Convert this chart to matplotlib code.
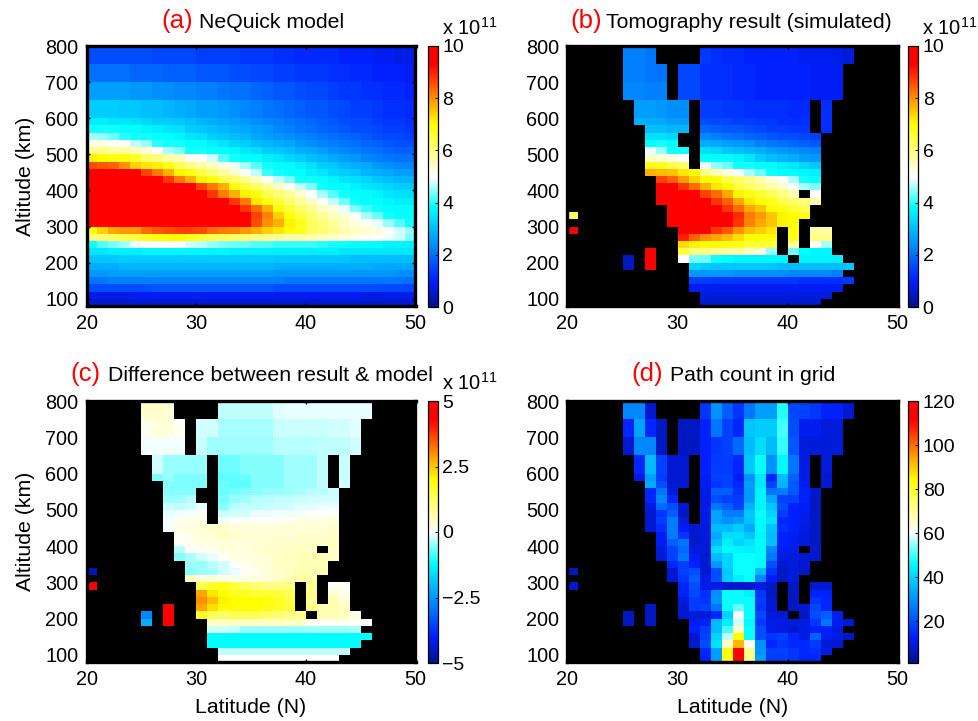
# -*- coding: utf-8 -*-
import numpy as np
import matplotlib
matplotlib.use('Agg')
from matplotlib import pyplot as plt
from matplotlib.colors import LinearSegmentedColormap

plt.rcParams['font.family'] = ['Liberation Sans', 'DejaVu Sans']
plt.rcParams['mathtext.default'] = 'regular'

W, H = 979, 721

lat_edges = list(range(20, 51))
alt_edges = [800, 750, 700, 650, 600, 580, 560, 540, 520, 500, 480, 460, 440, 420, 400, 380,
             360, 340, 320, 300, 280, 260, 240, 220, 200, 180, 160, 140, 120, 100, 80]

# 有效网格（b, c, d 共用），从最高的高度往下
cover = [
    ".....###....##############....",
    ".....####.###############.....",
    ".....####.###############.....",
    "......#####.##########.#......",
    "......#####.##########.#......",
    ".......####.##########.#......",
    ".......###..###########.......",
    ".......###..###########.......",
    ".......####.###########.......",
    ".......####.###########.......",
    ".......####.###########.......",
    ".......################.......",
    "........###############.......",
    "........###############.......",
    "........#############.#.......",
    "........###############.......",
    ".........#############........",
    "#........#############........",
    ".........############.........",
    "#.........#########.#.##......",
    "..........#########.#.##......",
    "..........#########.#.##......",
    ".......#..#########.####......",
    ".....#.#..##########.####.....",
    ".....#.#...###############....",
    "...........##############.....",
    "...........###############....",
    "...........##############.....",
    "............############......",
    "............###########.......",
]

model = [
    [1.6,1.6,1.6,1.6,1.6,1.6,1.5,1.5,1.5,1.5,1.4,1.4,1.4,1.4,1.3,1.3,1.3,1.2,1.2,1.1,1.1,1.1,1.1,1.0,1.0,1.0,0.9,0.9,0.8,0.8],
    [2.0,2.0,2.0,2.0,1.9,1.9,1.9,1.8,1.8,1.8,1.7,1.7,1.7,1.6,1.6,1.5,1.5,1.4,1.4,1.3,1.3,1.3,1.2,1.2,1.1,1.1,1.0,1.0,1.0,0.9],
    [2.6,2.6,2.6,2.6,2.5,2.5,2.4,2.4,2.3,2.3,2.2,2.2,2.1,2.0,2.0,1.9,1.8,1.7,1.7,1.6,1.5,1.5,1.4,1.3,1.3,1.2,1.2,1.1,1.1,1.0],
    [3.2,3.2,3.2,3.1,3.1,3.0,3.0,2.9,2.8,2.7,2.6,2.6,2.5,2.4,2.3,2.2,2.1,2.0,1.9,1.8,1.7,1.7,1.6,1.5,1.4,1.4,1.3,1.2,1.2,1.1],
    [3.6,3.6,3.5,3.5,3.4,3.3,3.2,3.2,3.1,3.0,2.9,2.8,2.7,2.6,2.5,2.4,2.3,2.2,2.1,2.0,1.9,1.8,1.7,1.6,1.5,1.5,1.4,1.3,1.3,1.2],
    [3.9,3.9,3.9,3.8,3.8,3.7,3.6,3.5,3.4,3.2,3.1,3.0,2.9,2.8,2.7,2.6,2.5,2.3,2.2,2.1,2.0,1.9,1.8,1.7,1.6,1.6,1.5,1.4,1.4,1.3],
    [4.6,4.5,4.3,4.0,3.9,3.9,3.8,3.8,3.7,3.5,3.4,3.2,3.1,3.0,2.9,2.7,2.6,2.5,2.4,2.3,2.2,2.1,2.0,1.9,1.8,1.7,1.6,1.5,1.5,1.4],
    [5.2,5.2,5.1,5.0,4.7,4.5,4.0,3.9,3.9,3.8,3.8,3.6,3.5,3.3,3.2,3.0,2.9,2.8,2.7,2.5,2.4,2.3,2.2,2.1,2.0,1.9,1.8,1.7,1.6,1.6],
    [5.9,5.9,5.8,5.8,5.6,5.3,5.1,4.6,4.4,3.9,3.9,3.8,3.8,3.7,3.5,3.4,3.2,3.1,3.0,2.8,2.7,2.6,2.4,2.3,2.2,2.1,2.0,1.9,1.8,1.8],
    [7.1,7.0,6.9,6.9,6.7,6.2,6.0,5.7,5.6,5.1,5.0,4.8,4.2,3.9,3.8,3.8,3.6,3.5,3.3,3.2,3.0,2.9,2.7,2.6,2.5,2.3,2.2,2.1,2.0,2.0],
    [8.6,8.5,8.4,8.0,7.4,7.2,7.1,6.9,6.3,6.0,5.7,5.5,5.2,4.9,4.6,4.2,3.9,3.8,3.8,3.6,3.4,3.2,3.1,2.9,2.8,2.7,2.5,2.4,2.3,2.3],
    [9.7,9.6,9.6,9.5,9.4,8.7,8.2,7.7,7.1,6.9,6.5,6.1,5.8,5.5,5.1,4.7,4.1,3.9,3.8,3.8,3.6,3.5,3.3,3.2,3.1,2.9,2.8,2.7,2.6,2.6],
    [9.9,9.9,9.8,9.8,9.7,9.6,9.4,8.8,8.2,7.7,7.1,6.9,6.4,6.2,5.8,5.5,5.1,4.7,4.4,3.9,3.9,3.8,3.7,3.5,3.4,3.3,3.1,3.0,2.9,2.9],
    [9.9,9.9,9.9,9.8,9.8,9.8,9.7,9.7,9.6,9.4,8.7,8.2,7.7,7.0,6.6,6.2,5.8,5.5,5.1,4.7,4.4,3.9,3.8,3.8,3.6,3.5,3.4,3.3,3.2,3.2],
    [10,10,10,9.9,9.9,9.8,9.8,9.7,9.7,9.6,9.4,8.8,8.2,7.7,7.1,6.9,6.4,6.1,5.8,5.4,5.0,4.6,4.2,3.9,3.8,3.8,3.7,3.5,3.4,3.4],
    [10,10,10,10,9.9,9.9,9.8,9.8,9.7,9.7,9.6,9.5,9.4,8.8,8.2,7.2,6.9,6.5,6.1,5.8,5.4,5.1,4.7,4.3,3.9,3.8,3.8,3.7,3.6,3.6],
    [10,10,10,10,10,9.9,9.9,9.8,9.8,9.7,9.7,9.6,9.5,9.4,8.8,8.3,7.7,7.0,6.6,6.2,5.9,5.5,5.2,4.9,4.4,4.1,3.9,3.8,3.8,3.8],
    [10,10,10,10,10,9.9,9.9,9.8,9.8,9.7,9.7,9.6,9.6,9.5,9.4,8.7,8.1,7.4,6.9,6.5,6.1,5.8,5.5,5.3,5.0,4.6,4.3,3.9,3.8,3.8],
    [10,10,10,10,9.9,9.9,9.8,9.8,9.8,9.7,9.7,9.6,9.6,9.5,9.4,8.6,8.0,7.7,7.1,6.8,6.3,6.0,5.8,5.5,5.3,5.1,4.9,4.5,4.2,3.9],
    [7.0,7.4,7.8,7.9,7.9,8.3,8.5,8.6,8.7,8.7,8.6,8.3,8.2,8.1,7.9,7.7,7.4,7.2,7.0,6.8,6.3,6.1,5.9,5.6,5.5,5.4,5.2,5.1,4.8,4.5],
    [6.0,6.1,6.3,6.4,6.5,6.7,6.9,7.0,7.0,6.8,6.6,6.4,6.3,6.2,6.1,6.0,5.9,5.8,5.7,5.7,5.6,5.5,5.4,5.3,5.2,5.1,5.0,4.9,4.8,4.4],
    [3.9,4.2,4.4,4.6,4.9,5.0,5.0,5.0,5.0,4.8,4.7,4.5,4.4,4.3,4.3,4.2,4.2,4.1,4.1,4.1,4.1,4.0,3.9,3.9,3.8,3.8,3.8,3.7,3.7,3.7],
    [3.5,3.5,3.6,3.6,3.6,3.7,3.7,3.7,3.7,3.7,3.7,3.7,3.7,3.6,3.6,3.6,3.6,3.6,3.6,3.6,3.6,3.6,3.6,3.5,3.5,3.5,3.5,3.5,3.5,3.5],
    [3.1,3.1,3.1,3.2,3.2,3.2,3.2,3.2,3.2,3.2,3.2,3.2,3.2,3.2,3.2,3.2,3.2,3.1,3.1,3.1,3.1,3.1,3.1,3.1,3.0,3.0,3.0,3.0,3.0,3.0],
    [2.8,2.8,2.8,2.9,2.9,2.9,2.9,2.9,2.9,2.9,2.9,2.9,2.9,2.9,2.9,2.9,2.9,2.8,2.8,2.8,2.8,2.8,2.8,2.8,2.8,2.8,2.7,2.7,2.7,2.7],
    [2.5,2.5,2.6,2.6,2.6,2.6,2.6,2.6,2.6,2.6,2.6,2.6,2.6,2.6,2.6,2.6,2.6,2.5,2.5,2.5,2.5,2.5,2.5,2.5,2.5,2.5,2.5,2.5,2.4,2.4],
    [2.1,2.1,2.2,2.2,2.2,2.2,2.2,2.2,2.2,2.2,2.2,2.2,2.2,2.2,2.2,2.2,2.2,2.2,2.1,2.1,2.1,2.1,2.1,2.1,2.1,2.1,2.1,2.1,2.1,2.0],
    [1.6,1.6,1.6,1.6,1.6,1.6,1.7,1.7,1.7,1.7,1.7,1.7,1.7,1.7,1.7,1.7,1.7,1.6,1.6,1.6,1.6,1.6,1.6,1.6,1.6,1.6,1.6,1.5,1.5,1.5],
    [0.8,0.8,0.8,0.8,0.9,0.9,0.9,0.9,0.9,0.9,0.9,0.9,0.9,0.9,0.9,0.9,0.9,0.9,0.9,0.9,0.9,0.9,0.9,0.9,0.9,0.8,0.8,0.8,0.8,0.8],
    [0.6,0.6,0.6,0.6,0.6,0.6,0.6,0.6,0.6,0.6,0.6,0.6,0.6,0.6,0.6,0.6,0.6,0.6,0.6,0.6,0.6,0.6,0.6,0.6,0.6,0.6,0.6,0.6,0.6,0.6],
]

# 下面三组只列出 cover 中标记为 # 的格子
result = [
    [2.2,2.2,2.1, 1.3,1.2,1.1,1.1,1.0,1.0,1.0,1.0,1.0,0.9,0.9,0.9,0.8,0.7],
    [2.2,2.2,2.1,2.0, 1.5,1.5,1.2,1.2,1.2,1.1,1.1,1.0,1.0,1.0,1.0,1.0,0.9,0.9,0.9],
    [2.3,2.3,2.2,2.2, 1.5,1.5,1.2,1.2,1.2,1.1,1.1,1.0,1.0,1.0,1.0,1.0,0.9,0.9,0.9],
    [2.6,2.6,2.5,2.4,2.4, 1.4,1.4,1.3,1.3,1.2,1.2,1.2,1.2,1.1,1.1, 1.2],
    [2.8,2.8,2.7,2.6,2.6, 1.6,1.5,1.5,1.4,1.4,1.3,1.3,1.2,1.2,1.2, 1.2],
    [3.0,3.0,2.9,2.9, 1.9,1.8,1.7,1.7,1.6,1.5,1.4,1.4,1.3,1.3, 1.2],
    [3.4,3.4,3.3, 2.3,2.2,2.1,2.0,1.9,1.8,1.7,1.6,1.6,1.5,1.4],
    [3.8,3.9,3.8, 2.8,2.7,2.6,2.5,2.4,2.2,2.1,2.0,1.9,1.8,1.7],
    [4.9,4.5,3.9,3.9, 3.4,3.3,3.1,3.0,2.9,2.8,2.6,2.5,2.4,2.3,2.2],
    [5.5,5.3,5.2,5.0, 3.8,3.8,3.8,3.7,3.5,3.2,3.0,2.9,2.8,2.6,2.5],
    [6.9,6.8,6.4,6.2, 4.9,4.5,4.3,3.9,3.9,3.8,3.8,3.6,3.5,3.3,3.1],
    [7.7,7.6,7.5,7.2,7.0,6.0,5.6,5.3,5.0,4.6,4.3,3.9,3.8,3.8,3.7,3.6],
    [8.7,8.4,7.9,7.4,7.0,6.9,6.4,6.2,5.9,5.6,5.3,5.0,4.6,3.9,3.8],
    [9.5,9.5,8.8,8.3,7.7,7.2,7.0,6.5,6.2,6.0,5.7,5.4,5.0,4.6,4.4],
    [9.5,9.5,9.5,9.5,8.7,8.3,7.8,7.1,6.9,6.6,6.3,6.0,5.6, 5.0],
    [9.5,9.5,9.5,9.5,9.5,8.8,8.4,7.8,7.2,7.0,6.8,6.4,6.2,6.0,5.6],
    [9.5,9.5,9.5,9.5,9.5,8.8,8.3,7.8,7.5,7.0,6.9,6.6,6.4],
    [6.3, 9.5,9.5,9.5,9.5,9.5,9.5,8.9,8.2,7.9,7.5,7.1,7.0,6.9],
    [9.5,9.5,9.5,9.5,9.5,9.5,8.8,8.1,7.8,7.5,7.1,7.0],
    [9.8, 9.5,9.5,9.5,8.8,8.5,8.0,7.6,7.4,7.2, 6.9, 5.7,5.7],
    [9.0,8.4,8.0,7.8,7.6,7.3,7.0,7.0,7.0, 6.8, 6.0,6.0],
    [7.3,7.1,7.0,7.0,6.9,6.8,6.6,6.6,6.5, 5.8, 5.0,4.6],
    [9.8, 6.5,6.0,6.0,5.8,5.7,5.7,5.5,5.3,4.5, 4.3,3.8,3.7,3.7],
    [0.5, 9.8, 5.0,4.4,4.3,3.9,3.8,3.7,3.7,3.7,3.7,3.7, 3.7,3.7,3.7,3.6],
    [0.5, 9.8, 3.3,3.2,3.1,3.1,3.1,3.1,3.1,3.1,3.0,3.0,3.0,3.0,3.0,3.0,3.1],
    [2.5,2.5,2.5,2.5,2.4,2.4,2.4,2.4,2.4,2.3,2.3,2.3,2.3,2.2],
    [1.4,1.4,1.3,1.3,1.3,1.3,1.3,1.3,1.3,1.3,1.2,1.2,1.2,1.2,1.3],
    [0.9,0.9,0.9,0.9,0.9,0.9,0.9,0.9,0.9,0.9,0.9,0.9,0.9,0.9],
    [0.7,0.7,0.7,0.7,0.7,0.7,0.7,0.7,0.7,0.7,0.7,0.7],
    [0.6,0.6,0.6,0.6,0.6,0.6,0.6,0.6,0.6,0.6,0.6],
]

diff = [
    [.4,.4,.35, -.3,-.3,-.3,-.3,-.3,-.12,-.1,-.1,-.1,-.1,-.1,-.1,-.1,-.1],
    [.15,.3,.3,.1, -.2,-.2,-.4,-.4,-.4,-.4,-.4,-.25,-.25,-.25,-.25,-.25,-.2,-.2,-.15],
    [-.05,-.05,-.05,-.05, -.25,-.45,-.45,-.45,-.45,-.45,-.45,-.35,-.35,-.35,-.35,-.3,-.3,-.3,-.2],
    [-.2,-.5,-.5,-.5,-.5, -.7,-.7,-.55,-.55,-.55,-.55,-.45,-.45,-.45,-.3, -.25],
    [-.6,-.5,-.6,-.6,-.6, -.75,-.75,-.7,-.55,-.55,-.55,-.45,-.45,-.45,-.3, -.25],
    [-.55,-.6,-.6,-.6, -.7,-.75,-.75,-.55,-.55,-.55,-.45,-.45,-.45,-.3, -.2],
    [-.55,-.55,-.55, -.7,-.65,-.55,-.55,-.5,-.5,-.45,-.4,-.35,-.35,-.25],
    [-.45,-.45,-.35, -.65,-.5,-.45,-.35,-.35,-.3,-.3,-.25,-.2,-.2,-.2],
    [-.25,-.3,-.2,-.1, -.55,-.35,-.3,-.3,-.25,-.2,-.2,-.15,-.15,-.1,-.1],
    [-.1,-.05,-.05,.05, -.25,-.2,-.2,-.1,-.1,-.05,-.05,-.05,0,0,.05],
    [-.05,.15,.2,.2, -.05,0,.05,.05,.1,.1,.15,.2,.2,.25,.25],
    [-.05,.2,.3,.3,.4,.4,.35,.3,.3,.3,.3,.35,.35,.35,.35,.4],
    [.1,.2,.3,.35,.5,.4,.35,.35,.35,.35,.35,.4,.4,.4,.45],
    [.05,.15,.2,.25,.3,.3,.3,.35,.35,.4,.4,.4,.4,.45,.5],
    [-.35,.05,.1,.15,.25,.3,.3,.35,.4,.45,.45,.5,.5, .5],
    [-.55,-.4,-.2,-.1,.1,.2,.25,.3,.35,.45,.5,.55,.6,.55,.5],
    [-.45,-.5,-.35,-.2,0,.1,.2,.3,.45,.5,.55,.55,.55],
    [-4.6, -.55,-.45,-.4,-.2,-.1,.1,.15,.3,.4,.5,.6,.6,.65],
    [.5,.3,.3,.2,.2,.2,.25,.35,.45,.55,.7,.7],
    [4.8, 1.4,1.7,1.8,1.5,1.3,1.1,1.0,1.0,1.0, .9, .1,.1],
    [2.8,2.2,2.0,1.8,1.7,1.6,1.6,1.5,1.3, .9, .4,.2],
    [3.0,2.6,2.1,2.0,2.0,2.0,1.9,1.7,1.5, .8, .6,.3],
    [4.8, 2.8,2.3,2.0,2.0,2.0,2.0,1.9,1.7,1.6, 1.0,.6,.6,.5],
    [-2.7, 4.8, 1.7,1.3,1.2,1.3,1.3,1.3,1.2,1.1,1.0,.9, .6,.6,.5,.2],
    [-2.2, 4.8, .5,.5,.5,.5,.5,.5,.5,.45,.45,.1,.1,.1,.1,.1,0],
    [-.2,-.2,-.3,-.5,-.5,-.5,-.5,-.5,-.5,-.45,-.45,-.45,-.45,-.4],
    [-1.2,-1.2,-1.2,-1.2,-1.2,-1.2,-1.2,-1.2,-1.2,-1.2,-1.2,-1.2,-1.2,-1.2,-1.2],
    [-1.2,-1.2,-1.2,-1.2,-1.2,-1.2,-1.2,-1.2,-1.2,-1.2,-1.2,-1.2,-1.2,-1.2],
    [-.3,-.3,-.3,-.3,-.3,-.3,-.3,-.3,-.3,-.3,-.3,-.3],
    [0,0,0,0,0,0,0,0,0,0,0],
]

counts = [
    [28,28,8, 16,30,22,16,26,32,32,48,19,18,16,13,13,8],
    [14,33,14,7, 7,7,13,26,18,14,38,39,39,50,20,11,11,9,9],
    [8,28,28,7, 7,7,13,16,18,24,36,41,36,49,21,9,9,9,9],
    [14,36,18,8,8, 13,17,17,14,38,47,30,46,26,10, 9],
    [10,32,17,8,8, 12,18,18,12,30,43,14,36,23,10, 8],
    [34,20,8,8, 12,16,18,14,32,43,18,35,21,12, 8],
    [14,26,9, 10,22,22,15,31,45,26,27,21,13,8],
    [14,28,14, 10,20,18,17,31,45,34,18,18,13,7],
    [9,24,20,8, 10,26,22,18,35,45,38,20,13,12,7],
    [8,16,22,7, 10,33,27,27,38,47,40,17,13,11,7],
    [8,17,27,9, 10,33,30,32,37,46,42,14,13,11,7],
    [8,15,27,12,8,9,36,36,39,34,46,37,15,13,10,7],
    [12,27,16,8,9,34,41,41,38,45,36,13,12,9,7],
    [12,22,26,8,9,36,44,40,42,46,37,13,12,9,7],
    [9,18,24,9,9,41,46,45,44,46,28,12,11, 8],
    [9,18,26,12,8,36,40,47,47,46,26,10,9,8,8],
    [14,18,13,8,31,40,47,47,46,20,8,9,8],
    [7, 8,18,20,8,20,38,47,47,36,16,7,9,7],
    [8,16,22,10,20,39,44,47,28,12,7,9],
    [8, 14,20,10,10,8,8,8,10,7, 7, 8,8],
    [13,19,15,30,47,47,44,16,7, 7, 13,13],
    [9,17,16,30,47,47,47,17,8, 7, 16,14],
    [7, 8,17,18,26,47,52,47,16,8, 7,8,19,14],
    [7, 7, 8,9,9,14,40,60,47,19,9,8, 7,20,22,11],
    [7, 7, 12,13,36,44,58,46,17,10,10,9,10,16,26,11,8],
    [13,17,36,50,66,47,20,11,10,8,10,13,13,10],
    [8,18,40,57,84,47,20,16,18,14,10,23,12,10,7],
    [8,20,42,66,92,62,30,14,16,14,14,17,9,8],
    [14,32,84,114,72,30,18,18,16,14,15,10],
    [13,32,84,118,72,32,17,17,16,14,14],
]

lat_ticks = [20, 30, 40, 50]
alt_ticks = [100, 200, 300, 400, 500, 600, 700, 800]
titles = ['NeQuick model', 'Tomography result (simulated)',
          'Difference between result & model', 'Path count in grid']
letters = ['(a)', '(b)', '(c)', '(d)']

colors = [(0, '#00108c'), (.1, '#0020ff'), (.38, '#00ffff'), (.5, '#ffffff'),
          (.7, '#ffff00'), (.93, '#ff0000'), (1, '#ff0000')]
cmap = LinearSegmentedColormap.from_list('nequick', colors, N=256)
cmap.set_bad('k')


def on_cover(rows):
    z = np.full((30, 30), np.nan)
    for i in range(30):
        z[i, np.array(list(cover[i])) == '#'] = rows[i]
    return np.ma.masked_invalid(z)


def box(l, t, r, b):
    return [l / W, 1 - b / H, (r - l) / W, (b - t) / H]


fig = plt.figure(figsize=(W / 100, H / 100), dpi=100)

panels = [
    (np.array(model), 0, 10, [0, 2, 4, 6, 8, 10], (86.5, 46, 415.5, 306), (428, 438), True),
    (on_cover(result), 0, 10, [0, 2, 4, 6, 8, 10], (567.5, 46, 897.5, 306), (908.5, 918.5), True),
    (on_cover(diff), -5, 5, [-5, -2.5, 0, 2.5, 5], (86.5, 401, 415.5, 662), (428, 438), True),
    (on_cover(counts), 1, 120, [20, 40, 60, 80, 100, 120], (567.5, 401, 897.5, 662), (908.5, 918.5), False),
]

for n, (z, lo, hi, cticks, (l, t, r, b), (cl, cr), sci) in enumerate(panels):
    ax = fig.add_axes(box(l, t, r, b))
    ax.set_facecolor('k')
    im = ax.pcolormesh(lat_edges, alt_edges, z, cmap=cmap, vmin=lo, vmax=hi, antialiased=False)
    ax.set_xlim(20, 50)
    ax.set_ylim(80, 800)
    ax.set_xticks(lat_ticks)
    ax.set_yticks(alt_ticks)
    ax.tick_params(direction='in', length=2.5, width=1, labelsize=14.3, colors='k', top=True, right=True)
    ax.tick_params(axis='x', pad=5.5)
    ax.tick_params(axis='y', pad=6)
    for s in ax.spines.values():
        s.set_linewidth(2.4)
    if n % 2 == 0:
        ax.set_ylabel('Altitude (km)', fontsize=15.3, labelpad=7)
    if n >= 2:
        ax.set_xlabel('Latitude (N)', fontsize=15.3, labelpad=7)

    cax = fig.add_axes(box(cl, t, cr, b + 1))
    cb = fig.colorbar(im, cax=cax, ticks=cticks)
    cb.set_ticklabels([('%g' % v).replace('-', '\u2212') for v in cticks])
    cb.ax.tick_params(direction='in', length=2, width=0.7, labelsize=14, pad=3)
    cb.outline.set_linewidth(0.9)
    if sci:
        fig.text((cl + 14) / W, 1 - (t - 11) / H, r'x 10$^{11}$', fontsize=14.5, va='baseline')

# 标题：红色编号 + 黑色文字
title_pos = [(161, 199, 28), (570, 606, 28), (70, 108, 381), (631, 670, 381)]
for n in range(4):
    x0, x1, y = title_pos[n]
    fig.text(x0 / W, 1 - y / H, letters[n], color='#ff0000', fontsize=18.5, va='baseline')
    fig.text(x1 / W, 1 - y / H, titles[n], color='k', fontsize=15.3, va='baseline')

plt.savefig('out.png', dpi=100)
